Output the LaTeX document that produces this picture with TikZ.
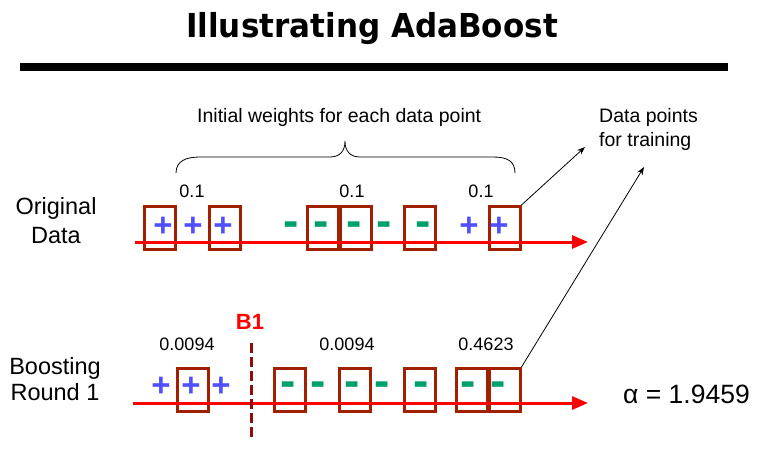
\documentclass[tikz,border=0pt]{standalone}
\usepackage{fontspec}
\setmainfont{Liberation Sans}
\newfontfamily\titlefont{DejaVu Sans Bold}[FakeStretch=0.94]
\newfontfamily\symfont{Liberation Sans Bold}
\usetikzlibrary{arrows.meta}
\definecolor{boxred}{RGB}{160,32,0}
\definecolor{plusblue}{RGB}{80,80,255}
\definecolor{minusgreen}{RGB}{0,160,110}
\definecolor{dashred}{RGB}{150,10,10}
\begin{document}
\begin{tikzpicture}[x=1pt,y=-1pt,
  databox/.style={draw=boxred,line width=3pt,minimum width=31pt,minimum height=43pt,inner sep=0pt},
  plusmark/.style={text=plusblue,font=\symfont\fontsize{33}{33}\selectfont,inner sep=0pt,anchor=base},
  minusmark/.style={text=minusgreen,font=\symfont\fontsize{46}{46}\selectfont,inner sep=0pt,anchor=base},
  weight/.style={font=\fontsize{18}{18}\selectfont,inner sep=0pt,anchor=base},
  axisline/.style={draw=red,line width=3pt,-{Triangle[length=16pt,width=13pt]}},
  lbl/.style={font=\fontsize{23.5}{28}\selectfont,inner sep=0pt,anchor=base},
  note/.style={font=\fontsize{19.5}{24}\selectfont,inner sep=0pt,anchor=base west},
  pointer/.style={draw=black,line width=0.8pt,-{Stealth[length=8pt,width=6pt]}},
]
\useasboundingbox (0,0) rectangle (764,466);
% title and rule
\node[font=\titlefont\fontsize{33}{33}\selectfont,anchor=base,inner sep=0pt] (title) at (372,37) {Illustrating AdaBoost};
\node[fill=black,minimum width=708pt,minimum height=8pt,inner sep=0pt] (rule) at (374,67) {};
% labels
\node[lbl] (orig1) at (56,214) {Original};
\node[lbl] (orig2) at (56,243) {Data};
\node[lbl] (boost1) at (55,374) {Boosting};
\node[lbl] (boost2) at (55,400) {Round 1};
\node[note] (initw) at (197,122) {Initial weights for each data point};
\node[note] (dp1) at (599,122) {Data points};
\node[note] (dp2) at (599,146) {for training};
% brace
\draw[line width=0.8pt] (176,173) .. controls (176,161) and (186,157) .. (200,157) -- (330,157)
  .. controls (340,157) and (345,151) .. (345,141)
  .. controls (345,151) and (350,157) .. (360,157) -- (493,157)
  .. controls (507,157) and (515,161) .. (515,173);
% row 1 boxes
\node[databox] (a1) at (160,228) {};
\node[databox] (a2) at (225,228) {};
\node[databox] (a3) at (322.5,228) {};
\node[databox] (a4) at (355.5,228) {};
\node[databox] (a5) at (420,228) {};
\node[databox] (a6) at (504.5,228) {};
% row 1 axis
\coordinate (r1s) at (135,242);
\coordinate (r1e) at (588,242);
\draw[axisline] (r1s) -- (r1e);
% row 1 marks
\node[plusmark] (p11) at (163,236) {+};
\node[plusmark] (p12) at (193,236) {+};
\node[plusmark] (p13) at (223,236) {+};
\node[minusmark] (m11) at (291,236) {-};
\node[minusmark] (m12) at (321,236) {-};
\node[minusmark] (m13) at (354,236) {-};
\node[minusmark] (m14) at (384,236) {-};
\node[minusmark] (m15) at (423,236) {-};
\node[plusmark] (p14) at (469,236) {+};
\node[plusmark] (p15) at (499,236) {+};
% row 1 weights
\node[weight] (w11) at (192,197) {0.1};
\node[weight] (w12) at (352,197) {0.1};
\node[weight] (w13) at (481,197) {0.1};
% row 2 boxes
\node[databox] (b1) at (192.5,390) {};
\node[databox] (b2) at (289.5,390) {};
\node[databox] (b3) at (355,390) {};
\node[databox] (b4) at (419.5,390) {};
\node[databox] (b5) at (471.5,390) {};
\node[databox] (b6) at (504.5,390) {};
% row 2 axis
\coordinate (r2s) at (133,403);
\coordinate (r2e) at (588,403);
\draw[axisline] (r2s) -- (r2e);
% row 2 marks
\node[plusmark] (p21) at (161,396) {+};
\node[plusmark] (p22) at (191,396) {+};
\node[plusmark] (p23) at (221,396) {+};
\node[minusmark] (m21) at (288,396) {-};
\node[minusmark] (m22) at (318,396) {-};
\node[minusmark] (m23) at (352,396) {-};
\node[minusmark] (m24) at (382,396) {-};
\node[minusmark] (m25) at (421,396) {-};
\node[minusmark] (m26) at (468,396) {-};
\node[minusmark] (m27) at (498,396) {-};
% row 2 weights
\node[weight] (w21) at (187,350) {0.0094};
\node[weight] (w22) at (347,350) {0.0094};
\node[weight] (w23) at (486,350) {0.4623};
% B1 and dashed line
\node[font=\bfseries\fontsize{22}{22}\selectfont,text=red,anchor=base,inner sep=0pt] (blbl) at (250,329) {B1};
\coordinate (dtop) at (251,343);
\coordinate (dbot) at (251,438);
\draw[draw=dashred,line width=3pt,dash pattern=on 10pt off 4pt] (dtop) -- (dbot);
% alpha
\node[font=\fontsize{26.5}{30}\selectfont,anchor=base west,inner sep=0pt] (alpha) at (623,403) {α = 1.9459};
% pointers
\coordinate (tip1) at (585,147);
\coordinate (tip2) at (644,167);
\draw[pointer] (a6.north east) -- (tip1);
\draw[pointer] (b6.north east) -- (tip2);
\end{tikzpicture}
\end{document}
